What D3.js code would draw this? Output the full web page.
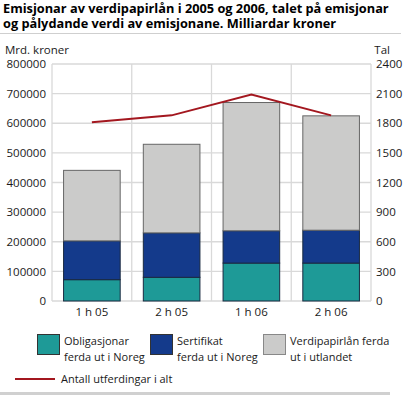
<!DOCTYPE html>
<html>
<head>
<meta charset="utf-8">
<script src="https://cdn.jsdelivr.net/npm/d3@7"></script>
<style>
  body { margin: 0; background: #fff; }
  svg { font-family: "Open Sans", sans-serif; }
</style>
</head>
<body>
<div id="chart"></div>
<script>
// NOTE: data
const periods = ['1 h 05', '2 h 05', '1 h 06', '2 h 06'];
const obligasjonar = [72000, 80000, 128000, 128000];
const sertifikat = [131000, 150000, 109000, 111000];
const utlandet = [238000, 299000, 433000, 386000];
const antall = [1810, 1880, 2090, 1880];
const leftTicks = [0, 100000, 200000, 300000, 400000, 500000, 600000, 700000, 800000];
const rightTicks = [0, 300, 600, 900, 1200, 1500, 1800, 2100, 2400];

const seriesKeys = ['obl', 'sert', 'utl'];
const seriesLabels = [
  ['Obligasjonar', 'ferda ut i Noreg'],
  ['Sertifikat', 'ferda ut i Noreg'],
  ['Verdipapirlån ferda', 'ut i utlandet'],
];
const colors = { obl: '#1e9a97', sert: '#143a8b', utl: '#cbcbca' };
const lineColor = '#a3171f';
const textColor = '#1a1a1a';

const W = 403, H = 395;
const plot = { left: 52, right: 371, top: 64, bottom: 301 };

const rows = periods.map((p, i) => ({
  period: p, obl: obligasjonar[i], sert: sertifikat[i], utl: utlandet[i],
}));

const svg = d3.select('#chart').append('svg').attr('width', W).attr('height', H);

// title, sized to the width it takes in the reference
const title = svg.append('text')
  .attr('font-size', 15).attr('font-weight', 'bold').attr('fill', '#000');
const t1 = title.append('tspan').attr('x', 3).attr('y', 13)
  .text('Emisjonar av verdipapirlån i 2005 og 2006, talet på emisjonar');
title.append('tspan').attr('x', 3).attr('y', 28)
  .text('og pålydande verdi av emisjonane. Milliardar kroner');
const tLen = t1.node().getComputedTextLength();
title.attr('font-size', Math.min(15, 15 * 386 / tLen));
svg.append('line').attr('x1', 0).attr('x2', 401).attr('y1', 33.5).attr('y2', 33.5)
  .attr('stroke', '#cfcfcf').attr('stroke-width', 1);

const x = d3.scaleBand().domain(periods).range([plot.left, plot.right]).paddingInner(0.29).paddingOuter(0.145);
const xBound = d3.scaleBand().domain(periods).range([plot.left, plot.right]);
const yL = d3.scaleLinear().domain([0, 800000]).range([plot.bottom, plot.top]);
const yR = d3.scaleLinear().domain([0, 2400]).range([plot.bottom, plot.top]);

// grid
const grid = svg.append('g').attr('stroke', '#d9d9d9').attr('stroke-width', 1.3);
grid.selectAll('.h').data(leftTicks.slice(1)).join('line')
  .attr('x1', plot.left).attr('x2', plot.right)
  .attr('y1', d => yL(d)).attr('y2', d => yL(d));
grid.selectAll('.v').data(periods.slice(1)).join('line')
  .attr('x1', d => xBound(d)).attr('x2', d => xBound(d))
  .attr('y1', plot.top).attr('y2', plot.bottom);
grid.append('line').attr('x1', plot.left).attr('x2', plot.left).attr('y1', plot.top).attr('y2', plot.bottom);
grid.append('line').attr('x1', plot.right).attr('x2', plot.right).attr('y1', plot.top).attr('y2', plot.bottom);
grid.append('line').attr('x1', plot.left).attr('x2', plot.right).attr('y1', plot.bottom).attr('y2', plot.bottom);

// axes
const axisL = svg.append('g').attr('transform', `translate(${plot.left},0)`)
  .call(d3.axisLeft(yL).tickValues(leftTicks).tickFormat(d3.format('d')).tickSize(0).tickPadding(6));
const axisR = svg.append('g').attr('transform', `translate(${plot.right},0)`)
  .call(d3.axisRight(yR).tickValues(rightTicks).tickFormat(d3.format('d')).tickSize(0).tickPadding(5));
const axisB = svg.append('g').attr('transform', `translate(0,${plot.bottom})`)
  .call(d3.axisBottom(xBound).tickSize(0).tickPadding(7));
[axisL, axisR, axisB].forEach(a => {
  a.select('.domain').remove();
  a.selectAll('text').attr('font-size', 11.5).attr('fill', textColor).attr('font-family', '"Open Sans", sans-serif');
});

svg.append('text').attr('x', 5).attr('y', 54).attr('font-size', 11.5).attr('fill', textColor).text('Mrd. kroner');
svg.append('text').attr('x', 390).attr('y', 54).attr('text-anchor', 'end').attr('font-size', 11.5).attr('fill', textColor).text('Tal');

// bars
const stack = d3.stack().keys(seriesKeys)(rows);
svg.append('g').selectAll('g').data(stack).join('g')
  .attr('fill', d => colors[d.key])
  .attr('stroke', d => d.key === 'utl' ? '#666' : '#1a2a40')
  .selectAll('rect').data(d => d).join('rect')
  .attr('x', d => x(d.data.period))
  .attr('width', x.bandwidth())
  .attr('y', d => yL(d[1]))
  .attr('height', d => yL(d[0]) - yL(d[1]))
  .attr('stroke-width', 1);

// line
const line = d3.line().x((d, i) => xBound(periods[i]) + xBound.bandwidth() / 2).y(d => yR(d));
svg.append('path').datum(antall).attr('d', line)
  .attr('fill', 'none').attr('stroke', lineColor).attr('stroke-width', 2);

// legend
const legend = svg.append('g').attr('font-size', 11).attr('fill', textColor);
const legX = [37, 150, 263];
seriesKeys.forEach((k, i) => {
  legend.append('rect').attr('x', legX[i] + 0.5).attr('y', 334.5).attr('width', 22).attr('height', 20)
    .attr('fill', colors[k]).attr('stroke', k === 'utl' ? '#888' : '#333');
  const t = legend.append('text').attr('fill', textColor);
  seriesLabels[i].forEach((s, j) => {
    t.append('tspan').attr('x', legX[i] + 27).attr('y', 345 + j * 16).text(s);
  });
});
legend.append('line').attr('x1', 15).attr('x2', 55).attr('y1', 379).attr('y2', 379)
  .attr('stroke', lineColor).attr('stroke-width', 2);
legend.append('text').attr('x', 61).attr('y', 383).attr('fill', textColor).text('Antall utferdingar i alt');

svg.append('rect').attr('x', 0).attr('y', 392).attr('width', 390).attr('height', 3).attr('fill', '#d0d0d0');
</script>
</body>
</html>
